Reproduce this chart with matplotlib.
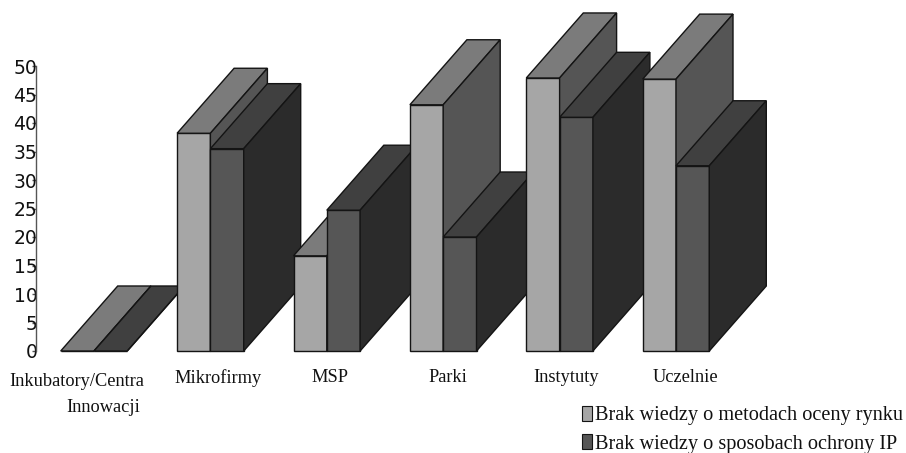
import matplotlib
matplotlib.use("Agg")
import matplotlib.pyplot as plt
from matplotlib.patches import Polygon, Patch

categories = ["Inkubatory/Centra\nInnowacji", "Mikrofirmy", "MSP", "Parki", "Instytuty", "Uczelnie"]
market_values = [0, 38.2, 16.7, 43.2, 47.9, 47.7]
ip_values = [0, 35.5, 24.7, 20.0, 41.0, 32.5]
series_names = ["Brak wiedzy o metodach oceny rynku", "Brak wiedzy o sposobach ochrony IP"]
y_ticks = list(range(0, 55, 5))

PX = 116.4                 # pixels per category
BAR_W = 33.3 / PX
DEPTH_X = 57 / PX
DEPTH_Y = 65 / 5.7
EDGE = "#141414"
LW = 1.0
LIGHT = ("#a6a6a6", "#7b7b7b", "#555555")   # front, top, side
DARK = ("#565656", "#404040", "#2b2b2b")

W, H = 906, 453
fig = plt.figure(figsize=(W / 100, H / 100), dpi=100, facecolor="white")
ax = fig.add_axes([36 / W, (H - 351) / H, 870 / W, 285 / H])
ax.set_xlim((36 - 94) / PX, (906 - 94) / PX)
ax.set_ylim(0, 50)


def bar3d(x0, value, colors, z):
    x1 = x0 + BAR_W
    front, top, side = colors
    ax.bar(x0, value, BAR_W, align="edge", color=front, edgecolor=EDGE, linewidth=LW,
           zorder=z, clip_on=False)
    ax.add_patch(Polygon([(x0, value), (x1, value), (x1 + DEPTH_X, value + DEPTH_Y),
                          (x0 + DEPTH_X, value + DEPTH_Y)], closed=True, facecolor=top,
                         edgecolor=EDGE, linewidth=LW, zorder=z, clip_on=False))
    ax.add_patch(Polygon([(x1, 0), (x1, value), (x1 + DEPTH_X, value + DEPTH_Y),
                          (x1 + DEPTH_X, DEPTH_Y)], closed=True, facecolor=side,
                         edgecolor=EDGE, linewidth=LW, zorder=z, clip_on=False))


z = 3
for i, (a, b) in enumerate(zip(market_values, ip_values)):
    bar3d(i - BAR_W, a, LIGHT, z)
    bar3d(i, b, DARK, z + 1)
    z += 2

for s in ("top", "right", "bottom"):
    ax.spines[s].set_visible(False)
ax.spines["left"].set_color("#555555")
ax.spines["left"].set_linewidth(1.0)
ax.set_xticks([])
ax.set_yticks(y_ticks)
ax.tick_params(axis="y", length=3, width=1, color="#555555", pad=-4, labelsize=13.5,
               labelcolor="#111111")
for lab in ax.get_yticklabels():
    lab.set_family("DejaVu Sans")

# per-line label offsets from the category position, in pixels: (dx, dy below baseline)
label_offsets = [[(-17, 30), (9, 56)], [(8, 27)], [(3, 27)], [(5, 27)], [(7, 27)], [(9, 27)]]
for i, (name, offsets) in enumerate(zip(categories, label_offsets)):
    for line, (dx, dy) in zip(name.split("\n"), offsets):
        ax.annotate(line, xy=(i, 0), xytext=(dx * 0.72, -dy * 0.72), textcoords="offset points",
                    ha="center", va="center", family="Liberation Serif", fontsize=13.2,
                    color="#111111", annotation_clip=False)

handles = [Patch(facecolor=LIGHT[0], edgecolor=EDGE, linewidth=0.8),
           Patch(facecolor=DARK[0], edgecolor=EDGE, linewidth=0.8)]
fig.legend(handles, series_names, loc="upper left", bbox_to_anchor=(582 / W, 1 - 406 / H),
           frameon=False, handlelength=0.5, handleheight=0.75, handletextpad=0.14,
           labelspacing=0.42, borderpad=0, borderaxespad=0,
           prop={"family": "Liberation Serif", "size": 14.6}, labelcolor="#111111")

fig.savefig("out.png", dpi=100)
